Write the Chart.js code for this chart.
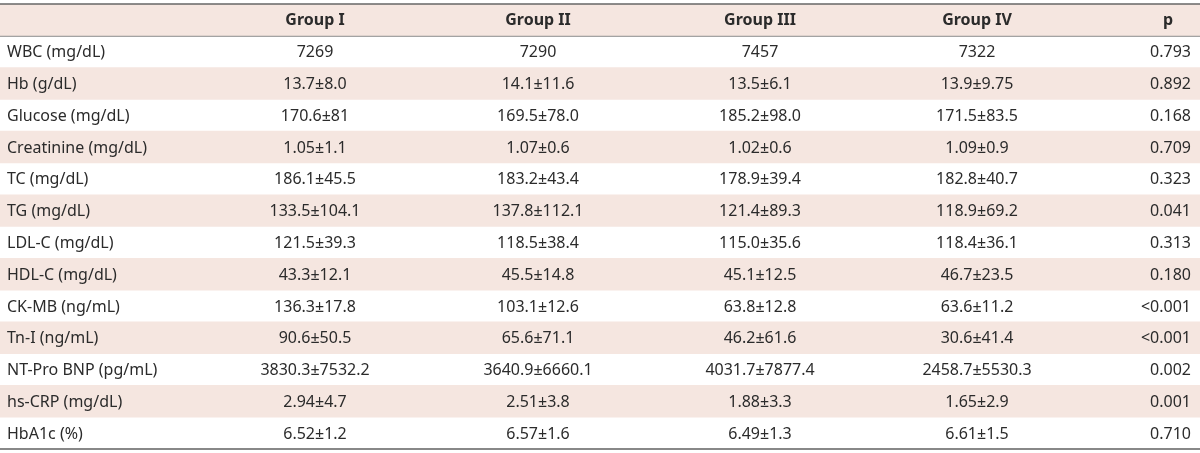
<!DOCTYPE html>
<html>
<head>
<meta charset="utf-8">
<script src="https://cdn.jsdelivr.net/npm/chart.js@4/dist/chart.umd.min.js"></script>
<style>
    body { margin: 0; background: #fff; }
    #wrap { width: 1200px; height: 453px; }
</style>
</head>
<body>
<div id="wrap"><canvas id="myChart" width="1200" height="453"></canvas></div>
<script>
// Table data

var headers = ["", "Group I", "Group II", "Group III", "Group IV", "p"];

var rowLabels = ["WBC (mg/dL)", "Hb (g/dL)", "Glucose (mg/dL)", "Creatinine (mg/dL)", "TC (mg/dL)",
    "TG (mg/dL)", "LDL-C (mg/dL)", "HDL-C (mg/dL)", "CK-MB (ng/mL)", "Tn-I (ng/mL)",
    "NT-Pro BNP (pg/mL)", "hs-CRP (mg/dL)", "HbA1c (%)"];

var group1 = ["7269", "13.7±8.0", "170.6±81", "1.05±1.1", "186.1±45.5", "133.5±104.1", "121.5±39.3",
    "43.3±12.1", "136.3±17.8", "90.6±50.5", "3830.3±7532.2", "2.94±4.7", "6.52±1.2"];
var group2 = ["7290", "14.1±11.6", "169.5±78.0", "1.07±0.6", "183.2±43.4", "137.8±112.1", "118.5±38.4",
    "45.5±14.8", "103.1±12.6", "65.6±71.1", "3640.9±6660.1", "2.51±3.8", "6.57±1.6"];
var group3 = ["7457", "13.5±6.1", "185.2±98.0", "1.02±0.6", "178.9±39.4", "121.4±89.3", "115.0±35.6",
    "45.1±12.5", "63.8±12.8", "46.2±61.6", "4031.7±7877.4", "1.88±3.3", "6.49±1.3"];
var group4 = ["7322", "13.9±9.75", "171.5±83.5", "1.09±0.9", "182.8±40.7", "118.9±69.2", "118.4±36.1",
    "46.7±23.5", "63.6±11.2", "30.6±41.4", "2458.7±5530.3", "1.65±2.9", "6.61±1.5"];
var pValues = ["0.793", "0.892", "0.168", "0.709", "0.323", "0.041", "0.313",
    "0.180", "<0.001", "<0.001", "0.002", "0.001", "0.710"];

// Layout (x scale runs 0..1200)
var colCenters = [315, 538, 760, 977];
var labelX = 7;
var pRightX = 1191;
var pHeaderX = 1168;

var textColor = '#2b2b2b';
var stripeColor = '#f5e6e0';
var font = '"Noto Sans", sans-serif';

var columns = [group1, group2, group3, group4];
var yLabels = ["header"].concat(rowLabels);

// pink stripes on header and every second row
var stripes = yLabels.map(function (l, i) {
    return i % 2 === 0 ? [0, 1200] : null;
});

// Table text + rules

var tablePlugin = {
    id: 'tableText',
    afterDatasetsDraw: function (chart) {
        var c = chart.ctx;
        var x = chart.scales.x;
        var y = chart.scales.y;
        var half = (y.getPixelForValue(1) - y.getPixelForValue(0)) / 2;

        c.save();
        c.textBaseline = 'middle';
        c.fillStyle = textColor;

        // header
        var hy = y.getPixelForValue(0) + 1;
        c.font = 'bold 16px ' + font;
        c.textAlign = 'center';
        for (var k = 0; k < colCenters.length; k++) {
            c.fillText(headers[k + 1], x.getPixelForValue(colCenters[k]), hy);
        }
        c.fillText(headers[5], x.getPixelForValue(pHeaderX), hy);

        // body
        c.font = '16px ' + font;
        for (var i = 0; i < rowLabels.length; i++) {
            var ry = y.getPixelForValue(i + 1) + 1;
            c.textAlign = 'left';
            c.fillText(rowLabels[i], x.getPixelForValue(labelX), ry);
            c.textAlign = 'center';
            for (var j = 0; j < columns.length; j++) {
                c.fillText(columns[j][i], x.getPixelForValue(colCenters[j]), ry);
            }
            c.textAlign = 'right';
            c.fillText(pValues[i], x.getPixelForValue(pRightX), ry);
        }

        // rules
        var left = chart.chartArea.left, right = chart.chartArea.right;
        var topY = y.getPixelForValue(0) - half;
        var headY = y.getPixelForValue(0) + half;
        var botY = y.getPixelForValue(rowLabels.length) + half;

        c.strokeStyle = '#666';
        c.lineWidth = 1.5;
        c.beginPath(); c.moveTo(left, topY); c.lineTo(right, topY); c.stroke();

        c.strokeStyle = '#8a8a8a';
        c.lineWidth = 1;
        c.beginPath(); c.moveTo(left, headY + 0.5); c.lineTo(right, headY + 0.5); c.stroke();

        c.strokeStyle = '#888';
        c.lineWidth = 2;
        c.beginPath(); c.moveTo(left, botY); c.lineTo(right, botY); c.stroke();
        c.restore();
    }
};

var ctx = document.getElementById('myChart').getContext('2d');
var chart = new Chart(ctx, {
    type: 'bar',
    data: {
        labels: yLabels,
        datasets: [{
            label: 'stripes',
            backgroundColor: stripeColor,
            borderWidth: 0,
            data: stripes,
            barPercentage: 1,
            categoryPercentage: 1,
        }]
    },
    options: {
        indexAxis: 'y',
        responsive: false,
        animation: false,
        layout: { padding: { top: 4, bottom: 4, left: 0, right: 0 } },
        plugins: {
            legend: { display: false },
            tooltip: { enabled: false },
        },
        scales: {
            x: { type: 'linear', min: 0, max: 1200, display: false },
            y: { type: 'category', display: false, offset: true, grid: { display: false } }
        }
    },
    plugins: [tablePlugin]
});
</script>
</body>
</html>
